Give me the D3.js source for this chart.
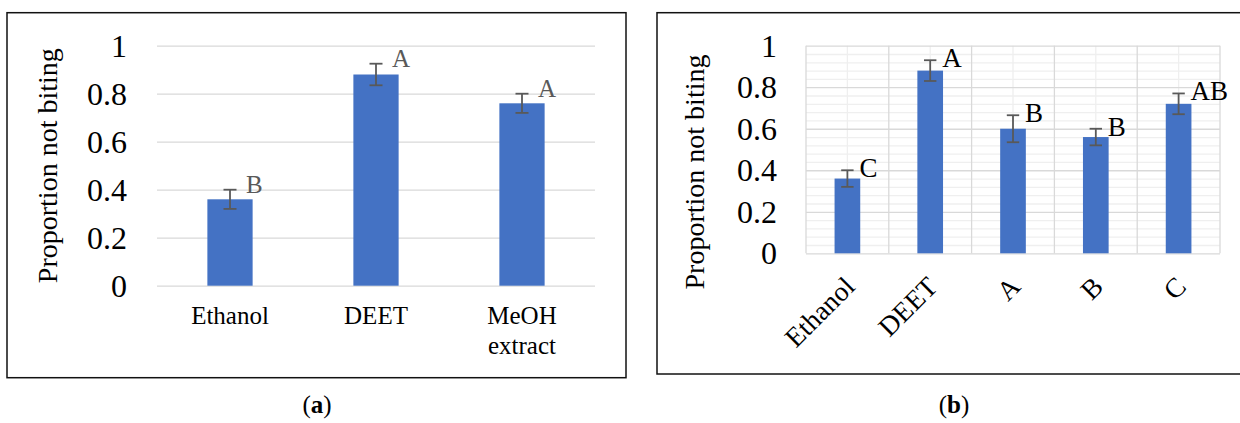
<!DOCTYPE html>
<html>
<head>
<meta charset="utf-8">
<script src="https://cdn.jsdelivr.net/npm/d3@7"></script>
<style>
  html, body { margin: 0; padding: 0; background: #fff; }
  svg { display: block; }
  text { font-family: "Liberation Serif", "Times New Roman", serif; }
</style>
</head>
<body>
<svg id="chart" width="1240" height="423"></svg>
<script>
// ---- data ----
const catsA = ["Ethanol", "DEET", "MeOH extract"];
const valsA = [0.36, 0.88, 0.76];
const errA = [0.04, 0.045, 0.04];
const lettersA = ["B", "A", "A"];

const catsB = ["Ethanol", "DEET", "A", "B", "C"];
const valsB = [0.36, 0.88, 0.60, 0.56, 0.72];
const errB = [0.04, 0.05, 0.065, 0.04, 0.05];
const lettersB = ["C", "A", "B", "B", "AB"];

const yTicks = [0, 0.2, 0.4, 0.6, 0.8, 1];
const yMinorTicks = d3.range(0, 1.0001, 0.04).map(v => +v.toFixed(2));
const captions = ["a", "b"];

const svg = d3.select("#chart");
svg.append("rect").attr("width", 1240).attr("height", 423).attr("fill", "#fff");

const BAR = "#4472c4";
const ERR = "#595959";
const GRID = "#d9d9d9";
const GRID_MINOR = "#efefef";

// ================= Panel (a) =================
(function () {
  const g = svg.append("g");
  g.append("rect").attr("x", 7).attr("y", 12.7).attr("width", 619).attr("height", 365)
    .attr("fill", "none").attr("stroke", "#111").attr("stroke-width", 1.5);

  const x = d3.scaleBand().domain(catsA).range([157, 595]).padding(0);
  const y = d3.scaleLinear().domain([0, 1]).range([285.7, 45.7]);
  const barW = x.bandwidth() * 0.31;

  // gridlines
  g.append("g").attr("transform", "translate(157,0)")
    .call(d3.axisLeft(y).tickValues(yTicks).tickSize(-(595 - 157)).tickFormat(""))
    .call(s => s.select(".domain").remove())
    .call(s => s.selectAll("line").attr("stroke", GRID).attr("stroke-width", 1.3));

  // y labels
  g.append("g").attr("transform", "translate(127,0)")
    .call(d3.axisLeft(y).tickValues(yTicks).tickSize(0).tickPadding(0).tickFormat(d3.format("")))
    .call(s => s.select(".domain").remove())
    .call(s => s.selectAll("text").attr("font-size", 32).attr("fill", "#000").attr("dy", "0.33em"));

  // bars
  g.selectAll(".bar").data(catsA).join("rect")
    .attr("x", d => x(d) + (x.bandwidth() - barW) / 2)
    .attr("y", (d, i) => y(valsA[i]))
    .attr("width", barW)
    .attr("height", (d, i) => y(0) - y(valsA[i]))
    .attr("fill", BAR);

  // error bars
  const eb = g.selectAll(".err").data(catsA).join("g");
  const cx = d => x(d) + x.bandwidth() / 2;
  eb.append("line").attr("x1", cx).attr("x2", cx)
    .attr("y1", (d, i) => y(valsA[i] + errA[i])).attr("y2", (d, i) => y(valsA[i] - errA[i]))
    .attr("stroke", ERR).attr("stroke-width", 1.8);
  [1, -1].forEach(sgn => {
    eb.append("line").attr("x1", d => cx(d) - 6.5).attr("x2", d => cx(d) + 6.5)
      .attr("y1", (d, i) => y(valsA[i] + sgn * errA[i])).attr("y2", (d, i) => y(valsA[i] + sgn * errA[i]))
      .attr("stroke", ERR).attr("stroke-width", 1.8);
  });
  // letters
  g.selectAll(".let").data(catsA).join("text")
    .attr("x", d => cx(d) + 16)
    .attr("y", (d, i) => y(valsA[i] + errA[i]) + 3)
    .attr("font-size", 25).attr("fill", ERR)
    .text((d, i) => lettersA[i]);

  // x labels
  const xl = g.append("g").attr("transform", "translate(0,285.7)")
    .call(d3.axisBottom(x).tickSize(0).tickPadding(0))
    .call(s => s.select(".domain").remove());
  xl.selectAll("text").each(function (d) {
    const t = d3.select(this);
    t.text(null).attr("y", 0).attr("dy", null)
      .attr("font-size", 25).attr("fill", "#000");
    d.split(" ").forEach((w, k) => {
      t.append("tspan").attr("x", 0).attr("y", 38.5 + k * 30).text(w);
    });
  });

  // y title
  g.append("text").attr("transform", "translate(57,165.7) rotate(-90)")
    .attr("text-anchor", "middle").attr("font-size", 28).attr("fill", "#000")
    .text("Proportion not biting");

  // caption
  const cap = g.append("text").attr("x", 317).attr("y", 413).attr("text-anchor", "middle")
    .attr("font-size", 25).attr("fill", "#000");
  cap.append("tspan").text("(");
  cap.append("tspan").attr("font-weight", "bold").text(captions[0]);
  cap.append("tspan").text(")");
})();

// ================= Panel (b) =================
(function () {
  const g = svg.append("g");
  g.append("rect").attr("x", 657).attr("y", 12.7).attr("width", 600).attr("height", 361.3)
    .attr("fill", "none").attr("stroke", "#111").attr("stroke-width", 1.5);

  const L = 806, R = 1220;
  const x = d3.scaleBand().domain(catsB).range([L, R]).padding(0);
  const y = d3.scaleLinear().domain([0, 1]).range([253.3, 45.7]);
  const barW = x.bandwidth() * 0.31;
  const cx = d => x(d) + x.bandwidth() / 2;

  // minor horizontal gridlines
  g.append("g").attr("transform", `translate(${L},0)`)
    .call(d3.axisLeft(y).tickValues(yMinorTicks.filter(v => !yTicks.some(t => Math.abs(t - v) < 1e-6)))
      .tickSize(-(R - L)).tickFormat(""))
    .call(s => s.select(".domain").remove())
    .call(s => s.selectAll("line").attr("stroke", GRID_MINOR).attr("stroke-width", 1.3));
  // minor vertical gridlines (band centers)
  g.append("g").attr("transform", "translate(0,45.7)")
    .call(d3.axisBottom(x).tickSize(253.3 - 45.7).tickFormat(""))
    .call(s => s.select(".domain").remove())
    .call(s => s.selectAll("line").attr("stroke", GRID_MINOR).attr("stroke-width", 1.3));
  // major horizontal gridlines
  g.append("g").attr("transform", `translate(${L},0)`)
    .call(d3.axisLeft(y).tickValues(yTicks).tickSize(-(R - L)).tickFormat(""))
    .call(s => s.select(".domain").remove())
    .call(s => s.selectAll("line").attr("stroke", GRID).attr("stroke-width", 1.3));
  // major vertical gridlines (band boundaries)
  const bounds = catsB.map(c => x(c)).concat([R]);
  g.selectAll(".vmaj").data(bounds).join("line")
    .attr("x1", d => d).attr("x2", d => d).attr("y1", y(1)).attr("y2", y(0))
    .attr("stroke", GRID).attr("stroke-width", 1.3);

  // y labels
  g.append("g").attr("transform", "translate(777,0)")
    .call(d3.axisLeft(y).tickValues(yTicks).tickSize(0).tickPadding(0).tickFormat(d3.format("")))
    .call(s => s.select(".domain").remove())
    .call(s => s.selectAll("text").attr("font-size", 32).attr("fill", "#000").attr("dy", "0.33em"));

  // bars
  g.selectAll(".bar").data(catsB).join("rect")
    .attr("x", d => x(d) + (x.bandwidth() - barW) / 2)
    .attr("y", (d, i) => y(valsB[i]))
    .attr("width", barW)
    .attr("height", (d, i) => y(0) - y(valsB[i]))
    .attr("fill", BAR);

  // error bars
  const eb = g.selectAll(".err").data(catsB).join("g");
  eb.append("line").attr("x1", cx).attr("x2", cx)
    .attr("y1", (d, i) => y(valsB[i] + errB[i])).attr("y2", (d, i) => y(valsB[i] - errB[i]))
    .attr("stroke", ERR).attr("stroke-width", 1.8);
  [1, -1].forEach(sgn => {
    eb.append("line").attr("x1", d => cx(d) - 6.2).attr("x2", d => cx(d) + 6.2)
      .attr("y1", (d, i) => y(valsB[i] + sgn * errB[i])).attr("y2", (d, i) => y(valsB[i] + sgn * errB[i]))
      .attr("stroke", ERR).attr("stroke-width", 1.8);
  });
  // letters
  g.selectAll(".let").data(catsB).join("text")
    .attr("x", d => cx(d) + 12)
    .attr("y", (d, i) => y(valsB[i] + errB[i]) + 7)
    .attr("font-size", 27).attr("fill", "#000")
    .text((d, i) => lettersB[i]);

  // x labels rotated
  const xl = g.append("g").attr("transform", "translate(0,253.3)")
    .call(d3.axisBottom(x).tickSize(0).tickPadding(0))
    .call(s => s.select(".domain").remove());
  xl.selectAll(".tick text")
    .attr("y", 0).attr("dy", null).attr("x", 0)
    .attr("text-anchor", "end")
    .attr("transform", "translate(9,35) rotate(-45)")
    .attr("font-size", 27.5).attr("fill", "#000");

  // y title
  g.append("text").attr("transform", "translate(704,172) rotate(-90)")
    .attr("text-anchor", "middle").attr("font-size", 28).attr("fill", "#000")
    .text("Proportion not biting");

  // caption
  const cap = g.append("text").attr("x", 954).attr("y", 413).attr("text-anchor", "middle")
    .attr("font-size", 25).attr("fill", "#000");
  cap.append("tspan").text("(");
  cap.append("tspan").attr("font-weight", "bold").text(captions[1]);
  cap.append("tspan").text(")");
})();
</script>
</body>
</html>
